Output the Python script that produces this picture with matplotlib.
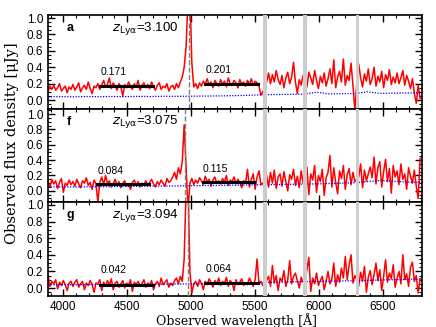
import numpy as np
import matplotlib.pyplot as plt
from matplotlib.ticker import MultipleLocator

# spectra sampled every 15 A
wave = np.arange(3880, 6805, 15)

flux_a = [0.10, 0.17, 0.13, 0.18, 0.12, 0.15, 0.20, 0.11, 0.14, 0.17, 0.09, 0.16, 0.13,
          0.19, 0.12, 0.16, 0.21, 0.10, 0.15, 0.18, 0.13, 0.22, 0.14, 0.08, 0.17, 0.15,
          0.20, 0.13, 0.18, 0.24, 0.16, 0.19, 0.27, 0.14, 0.21, 0.17, 0.12, 0.20, 0.16,
          0.05, 0.19, 0.15, 0.22, 0.17, 0.13, 0.20, 0.16, 0.24, 0.12, 0.18, 0.21, 0.15,
          0.19, 0.14, 0.22, 0.16, 0.12, 0.18, 0.21, 0.13, 0.17, 0.15, 0.20, 0.11, 0.16,
          0.18, 0.13, 0.20, 0.15, 0.22, 0.28, 0.40, 0.65, 1.25, 1.30, 0.45, 0.16, 0.20,
          0.14, 0.21, 0.17, 0.23, 0.19, 0.26, 0.18, 0.22, 0.15, 0.24, 0.20, 0.17, 0.25,
          0.19, 0.23, 0.16, 0.27, 0.20, 0.18, 0.24, 0.21, 0.15, 0.25, 0.19, 0.22, 0.17,
          0.24, 0.19, 0.26, 0.18, 0.23, 0.21, 0.17, 0.06, 0.10, 0.14, 0.22, 0.33, 0.20,
          0.31, 0.22, 0.36, 0.25, 0.19, 0.30, 0.15, 0.27, 0.34, 0.20, 0.28, 0.46, 0.22,
          0.08, 0.25, 0.18, 0.30, 0.22, 0.16, 0.34, 0.27, 0.19, 0.36, 0.24, 0.14, 0.29,
          0.21, 0.33, 0.17, 0.26, 0.38, 0.20, 0.49, 0.15, 0.28, 0.35, 0.22, 0.50, 0.18,
          0.30, 0.24, 0.45, 0.18, -0.12, 0.20, 0.44, 0.27, 0.16, 0.32, 0.23, 0.38, 0.19,
          0.26, 0.40, 0.17, 0.29, 0.22, 0.35, 0.15, 0.31, 0.24, 0.37, 0.19, 0.28, 0.21,
          0.33, 0.20, 0.27, 0.36, 0.18, 0.30, 0.23, 0.14, 0.26, 0.09, -0.04, 0.18, 0.02]

flux_f = [0.12, 0.05, 0.15, 0.09, 0.13, 0.03, 0.11, 0.16, -0.02, 0.10, 0.07, 0.14, 0.08,
          0.12, 0.06, 0.15, 0.09, 0.04, 0.13, 0.10, 0.17, 0.07, 0.11, 0.02, 0.14, 0.09,
          -0.15, 0.11, 0.18, 0.08, 0.20, 0.10, 0.13, 0.05, 0.09, 0.15, 0.07, 0.12, 0.04,
          0.10, 0.13, 0.06, 0.09, 0.02, 0.11, 0.14, 0.07, 0.12, 0.05, 0.10, 0.08, 0.13,
          0.07, 0.11, 0.15, 0.09, 0.05, 0.12, 0.08, 0.14, 0.10, 0.06, 0.16, 0.11, 0.13,
          0.18, 0.24, 0.15, 0.30, 0.22, 0.38, 0.86, 0.30, -0.25, 0.10, 0.16, 0.08, 0.14,
          0.10, 0.17, 0.13, 0.08, 0.19, 0.12, 0.15, 0.06, 0.14, 0.18, 0.10, 0.13, 0.09,
          0.16, 0.11, 0.20, 0.07, 0.14, 0.12, 0.18, 0.09, 0.15, 0.11, 0.04, 0.13, 0.10,
          0.28, 0.05, 0.15, 0.22, 0.02, 0.18, 0.26, 0.08, 0.10, 0.12, 0.20, 0.05, 0.24,
          0.10, 0.27, 0.03, 0.18, 0.22, 0.06, 0.25, 0.12, 0.00, 0.21, 0.15, 0.28, 0.07,
          0.19, 0.04, 0.26, 0.10, 0.08, 0.31, -0.05, 0.22, 0.14, 0.33, -0.02, 0.20, 0.12,
          0.28, -0.06, 0.17, 0.24, 0.46, 0.05, 0.30, 0.11, -0.04, 0.26, 0.16, 0.33, 0.02,
          0.21, 0.29, 0.08, 0.24, 0.12, 0.15, 0.18, 0.35, 0.04, 0.27, 0.13, 0.22, 0.31,
          0.17, 0.44, 0.09, 0.30, 0.38, 0.05, 0.25, 0.41, 0.12, 0.29, -0.03, 0.33, 0.18,
          0.26, 0.08, 0.35, 0.15, 0.22, 0.02, 0.30, 0.19, 0.10, 0.27, 0.06, -0.10, 0.42]

flux_g = [0.16, 0.02, 0.08, 0.05, 0.10, -0.01, 0.07, 0.03, 0.09, 0.04, -0.03, 0.06, 0.08,
          0.02, 0.07, 0.10, 0.01, 0.05, 0.08, -0.02, 0.06, 0.03, 0.09, 0.04, -0.05, 0.06,
          0.05, 0.10, -0.03, 0.07, 0.02, 0.09, 0.04, 0.11, -0.02, 0.06, 0.08, 0.01, 0.05,
          0.09, 0.00, 0.06, 0.03, 0.10, -0.04, 0.07, 0.04, 0.08, 0.02, 0.05, 0.10, 0.01,
          0.06, 0.03, 0.09, -0.02, 0.05, 0.08, 0.02, 0.12, 0.04, 0.07, 0.10, 0.01, 0.06,
          0.03, 0.09, 0.12, 0.05, 0.14, 0.08, 0.35, 1.20, 1.25, 0.20, -0.06, 0.05, 0.08,
          0.02, 0.10, 0.06, -0.02, 0.08, 0.04, 0.11, 0.07, 0.01, 0.09, 0.05, 0.12, 0.03,
          0.08, 0.05, 0.13, 0.02, 0.09, 0.06, -0.03, 0.10, 0.04, 0.07, 0.11, 0.03, 0.06,
          0.04, 0.12, 0.07, 0.02, 0.10, 0.35, 0.05, 0.08, 0.03, 0.06, 0.09, 0.14, 0.02,
          0.27, 0.06, 0.15, -0.03, 0.12, 0.08, 0.21, 0.02, 0.10, 0.33, 0.05, 0.14, 0.18,
          0.09, 0.00, 0.13, 0.07, 0.10, 0.22, 0.37, -0.04, 0.12, 0.05, 0.18, 0.03, 0.09,
          0.14, -0.02, 0.08, 0.20, 0.05, 0.11, 0.30, 0.02, 0.16, 0.07, 0.24, 0.12, 0.38,
          0.10, 0.28, 0.40, 0.06, 0.15, 0.10, 0.02, 0.19, 0.08, 0.26, -0.05, 0.13, 0.21,
          0.04, 0.16, 0.30, 0.09, 0.22, -0.03, 0.14, 0.34, 0.07, 0.18, 0.11, 0.28, 0.01,
          0.12, 0.20, 0.05, 0.40, 0.10, 0.17, 0.02, 0.25, 0.31, 0.08, 0.15, -0.06, 0.11]

# noise spectra, every 100 A
err_wave = np.arange(3880, 6900, 100)
err_a = [0.040, 0.042, 0.040, 0.043, 0.041, 0.044, 0.042, 0.045, 0.043, 0.046, 0.045,
         0.047, 0.048, 0.050, 0.052, 0.055, 0.060, 0.065, 0.068, 0.070, 0.072, 0.095,
         0.075, 0.078, 0.080, 0.100, 0.082, 0.084, 0.086, 0.088, 0.090]
err_f = [0.050, 0.052, 0.050, 0.053, 0.055, 0.054, 0.057, 0.058, 0.060, 0.062, 0.064,
         0.066, 0.068, 0.070, 0.072, 0.074, 0.078, 0.080, 0.082, 0.085, 0.088, 0.090,
         0.095, 0.100, 0.105, 0.120, 0.135, 0.125, 0.115, 0.110, 0.110]
err_g = [0.040, 0.041, 0.040, 0.042, 0.043, 0.042, 0.044, 0.045, 0.046, 0.047, 0.048,
         0.050, 0.052, 0.054, 0.056, 0.058, 0.062, 0.066, 0.070, 0.074, 0.078, 0.080,
         0.082, 0.085, 0.088, 0.092, 0.096, 0.100, 0.104, 0.108, 0.112]

letters = ['a', 'f', 'g']
z_lya = ['3.100', '3.075', '3.094']
lya_wave = [4984, 4954, 4977]
blue_cont = [(4290, 4700, 0.171), (4265, 4670, 0.084), (4290, 4700, 0.042)]
red_cont = [(5110, 5520, 0.201), (5090, 5490, 0.115), (5110, 5520, 0.064)]
sky_lines = [5577, 5890, 6300]
ylims = [(-0.105, 1.037), (-0.15, 1.07), (-0.096, 1.032)]

fluxes = [flux_a, flux_f, flux_g]
errs = [err_a, err_f, err_g]

fig = plt.figure(figsize=(4.36, 3.27), dpi=100)
plt.rcParams['font.family'] = ['Liberation Sans', 'DejaVu Sans']

H = 281 / 3 / 327
for i in range(3):
    top = 15 + i * 281 / 3
    ax = fig.add_axes([48 / 436, 1 - top / 327 - H, 374 / 436, H])

    ax.plot(wave, fluxes[i], color='red', lw=1.1, zorder=2)
    ax.plot(err_wave, errs[i], color='blue', lw=0.9, ls=(0, (1, 1.2)), zorder=2)
    for s in sky_lines:
        ax.axvspan(s - 15, s + 15, color='#cccccc', lw=0, zorder=4)
    ax.axvline(lya_wave[i], color='gray', ls='--', lw=1.0, zorder=3)

    for (x0, x1, v) in [blue_cont[i], red_cont[i]]:
        ax.plot([x0, x1], [v, v], color='black', lw=2.2, zorder=5)
        ax.text(x0, v + 0.17, '%.3f' % v, fontsize=7.5, va='center', ha='left')

    ax.text(0.05, 0.86, letters[i], transform=ax.transAxes, fontsize=9,
            fontweight='bold', va='center')
    ax.text(0.17, 0.86, r'$z_{\rm Ly\alpha}$=' + z_lya[i], transform=ax.transAxes,
            fontsize=9.5, va='center')

    ax.set_xlim(3880, 6805)
    ax.set_ylim(*ylims[i])
    ax.xaxis.set_major_locator(MultipleLocator(500))
    ax.xaxis.set_minor_locator(MultipleLocator(100))
    ax.yaxis.set_minor_locator(MultipleLocator(0.05))
    ax.set_yticks([0.0, 0.2, 0.4, 0.6, 0.8, 1.0])
    ax.set_yticklabels(['0.0', '0.2', '0.4', '0.6', '0.8', '1.0'])
    ax.tick_params(which='both', direction='in', top=True, right=True, labelsize=8.5)
    ax.tick_params(which='major', length=5, width=1)
    ax.tick_params(which='minor', length=2.5, width=0.8)
    for sp in ax.spines.values():
        sp.set_linewidth(1.2)
    if i < 2:
        ax.set_xticklabels([])

fig.text(236 / 436, 1 - 321 / 327, u'Observed wavelength [\u00c5]', ha='center',
         va='center', fontsize=9, family='DejaVu Serif')
fig.text(12 / 436, 1 - 143 / 327, u'Observed flux density [\u03bcJy]', ha='center',
         va='center', rotation=90, fontsize=10.5, family='DejaVu Serif')

fig.savefig('out.png', dpi=100)
